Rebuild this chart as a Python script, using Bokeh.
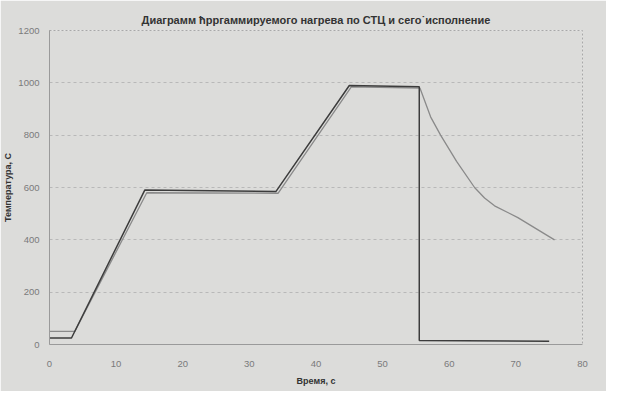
from bokeh.plotting import figure
from bokeh.embed import file_html
from bokeh.resources import INLINE
from bokeh.models import Range1d, FixedTicker

# Programmed heating curve (time, s / temperature, C)
prog_time = [0, 3.3, 14.3, 34.0, 45.0, 55.5, 55.5, 75.0]
prog_temp = [25, 25, 590, 585, 990, 985, 15, 12]

# Actual execution curve
act_time = [0, 3.8, 14.6, 34.3, 45.3, 55.6, 57.2, 58.7, 61.1, 63.8, 65.3, 66.8, 70.3, 75.8]
act_temp = [50, 50, 580, 578, 985, 980, 870, 800, 700, 600, 560, 530, 485, 400]

x_ticks = [0, 10, 20, 30, 40, 50, 60, 70, 80]
y_ticks = [0, 200, 400, 600, 800, 1000, 1200]

BG = "#dcdcda"
FONT = "Liberation Sans"

p = figure(width=606, height=391, output_backend="svg", toolbar_location=None,
           x_range=Range1d(0, 80), y_range=Range1d(0, 1200),
           min_border_left=36, min_border_right=24, min_border_top=30, min_border_bottom=47,
           background_fill_color=BG, border_fill_color=BG,
           title="Диаграмм ћрргаммируемого нагрева по СТЦ и сего˙исполнение")

p.title.align = "center"
p.title.text_font = FONT
p.title.text_font_size = "11px"
p.title.text_font_style = "bold"
p.title.text_color = "#333333"
p.title.offset = 0

p.outline_line_color = "#a8a8a8"
p.outline_line_dash = "2 2"

p.xaxis.ticker = FixedTicker(ticks=x_ticks)
p.yaxis.ticker = FixedTicker(ticks=y_ticks)
for ax in (p.xaxis[0], p.yaxis[0]):
    ax.major_label_text_font = FONT
    ax.major_label_text_font_size = "9.5px"
    ax.major_label_text_color = "#7a7a7a"
    ax.axis_line_color = "#9a9a9a"
    ax.major_tick_line_color = None
    ax.minor_tick_line_color = None
    ax.axis_label_text_font = FONT
    ax.axis_label_text_font_size = "9px"
    ax.axis_label_text_font_style = "bold"
    ax.axis_label_text_color = "#333333"

p.xaxis.axis_label = "Время, с"
p.yaxis.axis_label = "Температура, С"
p.xaxis.major_label_standoff = 10
p.yaxis.major_label_standoff = 4
p.xaxis.axis_label_standoff = 6
p.yaxis.axis_label_standoff = 2

p.xgrid.grid_line_color = None
p.ygrid.grid_line_color = "#b8b8b8"
p.ygrid.grid_line_dash = "3 3"

p.line(act_time, act_temp, line_color="#8a8a8a", line_width=1.3)
p.line(prog_time, prog_temp, line_color="#3c3c3c", line_width=1.5)

open("out.html", "w").write(file_html(p, INLINE))
